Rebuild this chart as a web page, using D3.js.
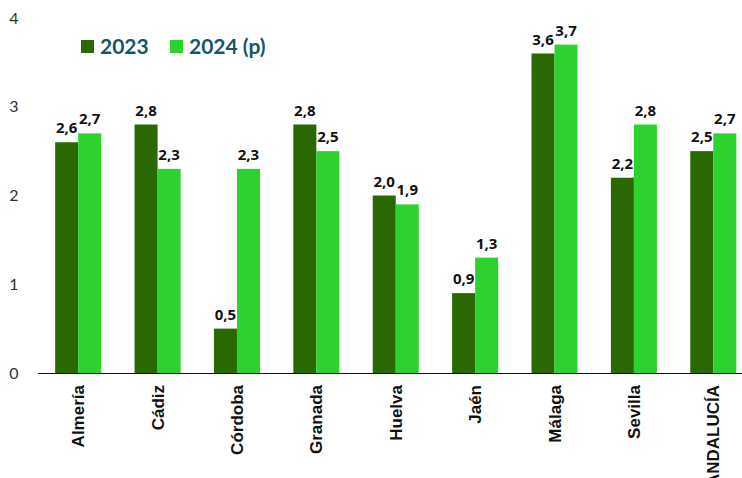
<!DOCTYPE html>
<html>
<head>
<meta charset="utf-8">
<script src="https://cdn.jsdelivr.net/npm/d3@7"></script>
<style>
  html, body { margin: 0; padding: 0; background: #fff; overflow: hidden; }
  svg { display: block; }
</style>
</head>
<body>
<svg id="chart" width="742" height="478"></svg>
<script>
const categories = ["Almería", "Cádiz", "Córdoba", "Granada", "Huelva", "Jaén", "Málaga", "Sevilla", "ANDALUCÍA"];
const values2023 = [2.6, 2.8, 0.5, 2.8, 2.0, 0.9, 3.6, 2.2, 2.5];
const values2024 = [2.7, 2.3, 2.3, 2.5, 1.9, 1.3, 3.7, 2.8, 2.7];
const seriesNames = ["2023", "2024 (p)"];
const yTicks = [0, 1, 2, 3, 4];
const footnote = "(p) Provisional";

const colors = ["#2a6804", "#2ed22e"];
const W = 742, H = 478;
const svg = d3.select("#chart");

const y = d3.scaleLinear().domain([0, 4]).range([373, 18]);
const x0 = d3.scaleBand().domain(categories).range([38.5, 753]).paddingInner(0.42).paddingOuter(0.21);
const x1 = d3.scaleBand().domain(seriesNames).range([0, x0.bandwidth()]);

const fmt = v => d3.format(".1f")(v).replace(".", ",");

// y tick labels
svg.append("g").selectAll("text").data(yTicks).join("text")
  .attr("x", 14).attr("y", d => y(d)).attr("dy", "0.35em")
  .attr("text-anchor", "middle")
  .attr("font-family", "Lato, 'Noto Sans', sans-serif")
  .attr("font-size", 16).attr("fill", "#333")
  .text(d => d);

const rows = categories.map((c, i) => ({ cat: c, vals: [values2023[i], values2024[i]] }));

const groups = svg.append("g").selectAll("g").data(rows).join("g")
  .attr("transform", d => `translate(${x0(d.cat)},0)`);

groups.selectAll("rect").data(d => d.vals.map((v, j) => ({ v, s: seriesNames[j], j }))).join("rect")
  .attr("x", d => x1(d.s)).attr("width", x1.bandwidth())
  .attr("y", d => y(d.v)).attr("height", d => y(0) - y(d.v))
  .attr("fill", d => colors[d.j]);

groups.selectAll("text.val").data(d => d.vals.map((v, j) => ({ v, s: seriesNames[j], j }))).join("text")
  .attr("class", "val")
  .attr("x", d => x1(d.s) + x1.bandwidth() / 2)
  .attr("y", d => y(d.v) - 9)
  .attr("text-anchor", "middle")
  .attr("font-family", "'Noto Sans', Inter, sans-serif")
  .attr("font-weight", "bold").attr("font-size", 15).attr("fill", "#111")
  .text(d => fmt(d.v));

// x axis line
svg.append("line").attr("x1", 38).attr("x2", W).attr("y1", 373.5).attr("y2", 373.5)
  .attr("stroke", "#111").attr("stroke-width", 1.2);

// category labels
svg.append("g").selectAll("text").data(categories).join("text")
  .attr("transform", d => `translate(${x0(d) + x0.bandwidth() / 2 + 6},385) rotate(-90)`)
  .attr("text-anchor", "end")
  .attr("font-family", "'Liberation Sans', Arial, sans-serif")
  .attr("font-weight", "bold").attr("font-size", 17).attr("fill", "#111")
  .text(d => d);

// legend
const legend = svg.append("g");
const legX = [81, 170];
seriesNames.forEach((s, i) => {
  legend.append("rect").attr("x", legX[i]).attr("y", 40).attr("width", 13).attr("height", 13).attr("fill", colors[i]);
  legend.append("text").attr("x", legX[i] + 19).attr("y", 53.5)
    .attr("font-family", "Lato, 'Noto Sans', sans-serif")
    .attr("font-weight", "bold").attr("font-size", 21).attr("fill", "#17566a")
    .text(s);
});

// footnote (mostly cut off at the bottom edge, as in the reference)
svg.append("text").attr("x", 318).attr("y", 490)
  .attr("font-family", "Lato, 'Noto Sans', sans-serif")
  .attr("font-size", 16).attr("fill", "#7fa9b5")
  .call(t => {
    t.append("tspan").attr("fill", "#17566a").attr("font-weight", "bold").text(footnote.slice(0, 3));
    t.append("tspan").text(footnote.slice(3));
  });
</script>
</body>
</html>
